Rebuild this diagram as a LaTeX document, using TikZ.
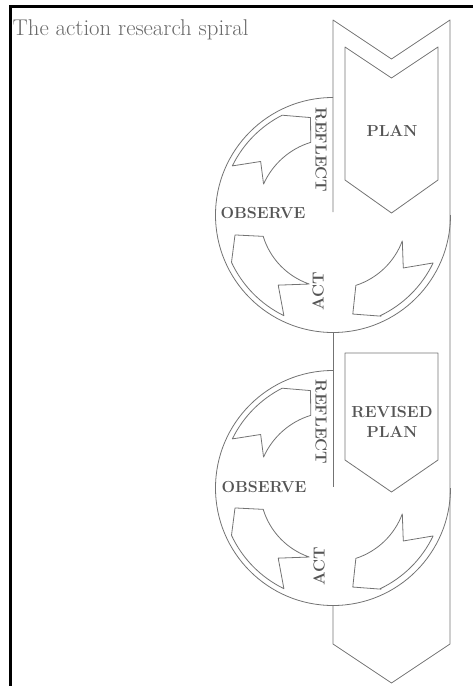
\documentclass[tikz,border=0pt]{standalone}
\usetikzlibrary{calc}
\definecolor{linecol}{RGB}{115,115,115}
\definecolor{textcol}{RGB}{85,85,85}
\definecolor{titlecol}{RGB}{105,105,105}
\tikzset{
  shapeline/.style={draw=linecol, line width=0.8pt, line join=round},
  lbl/.style={text=textcol, font=\fontsize{16}{20}\selectfont\bfseries, inner sep=0pt, align=center},
}
\begin{document}
\begin{tikzpicture}[x=1pt,y=-1pt]
\useasboundingbox (0,0) rectangle (472,686);
% frame
\draw[line width=2.7pt, line join=miter] (10.3,690) -- (10.3,6.2) -- (476,6.2);
% title
\node[anchor=base west, text=titlecol, font=\fontsize{22.8}{26}\selectfont, inner sep=0pt] (title) at (12.5,35) {The action research spiral};

\coordinate (c1) at (333,215);
\coordinate (c2) at (333,488);

% band
\draw[shapeline] (333,212) -- (333,20) -- (391.5,59) -- (450,20) -- (450,644) -- (391.5,683) -- (333,644) -- (333,605.5);
\draw[shapeline] (333,332.5) -- (333,487);

% plan pentagons
\draw[shapeline] (345,47) -- (391.5,78) -- (438,47) -- (438,180) -- (391.5,213) -- (345,180) -- cycle;
\draw[shapeline] (345,353) -- (438,353) -- (438,460) -- (391.5,492) -- (345,460) -- cycle;

% circles and arrows
\foreach \c in {c1,c2}{
  \draw[shapeline] ($(\c)+(90:117.5pt)$) arc[start angle=90, end angle=360, radius=117.5pt];
  % upper-left arrow
  \draw[shapeline] ($(\c)+(117:112pt)$) -- ($(\c)+(103:100pt)$) -- ($(\c)+(107:76pt)$)
     arc[start angle=107, end angle=156, radius=76pt] -- ($(\c)+(143.5:90pt)$) -- ($(\c)+(154:112pt)$)
     arc[start angle=154, end angle=117, radius=112pt] -- cycle;
  % lower-left arrow
  \draw[shapeline] ($(\c)+(205:112pt)$) -- ($(\c)+(191.5:100pt)$) -- ($(\c)+(197:73pt)$)
     arc[start angle=197, end angle=251, radius=73pt] -- ($(\c)+(232:89pt)$) -- ($(\c)+(244:112pt)$)
     arc[start angle=244, end angle=205, radius=112pt] -- cycle;
  % lower-right arrow
  \draw[shapeline] ($(\c)+(-64.6:112pt)$) -- ($(\c)+(-78.7:101pt)$) -- ($(\c)+(-72:74pt)$)
     arc[start angle=-72, end angle=-20.5, radius=74pt] -- ($(\c)+(-37:88pt)$) -- ($(\c)+(-25.6:111pt)$)
     arc[start angle=-25.6, end angle=-64.6, radius=112pt] -- cycle;
}

% labels
\node[lbl] (plan) at (392,131) {PLAN};
\node[lbl, rotate=-90] (reflect1) at (321,150) {REFLECT};
\node[lbl] (observe1) at (263,213.5) {OBSERVE};
\node[lbl, rotate=90] (act1) at (318,291) {ACT};
\node[lbl] (rplan) at (392,421.5) {REVISED\\PLAN};
\node[lbl, rotate=-90] (reflect2) at (321,422) {REFLECT};
\node[lbl] (observe2) at (264,487) {OBSERVE};
\node[lbl, rotate=90] (act2) at (319,566) {ACT};
\end{tikzpicture}
\end{document}
